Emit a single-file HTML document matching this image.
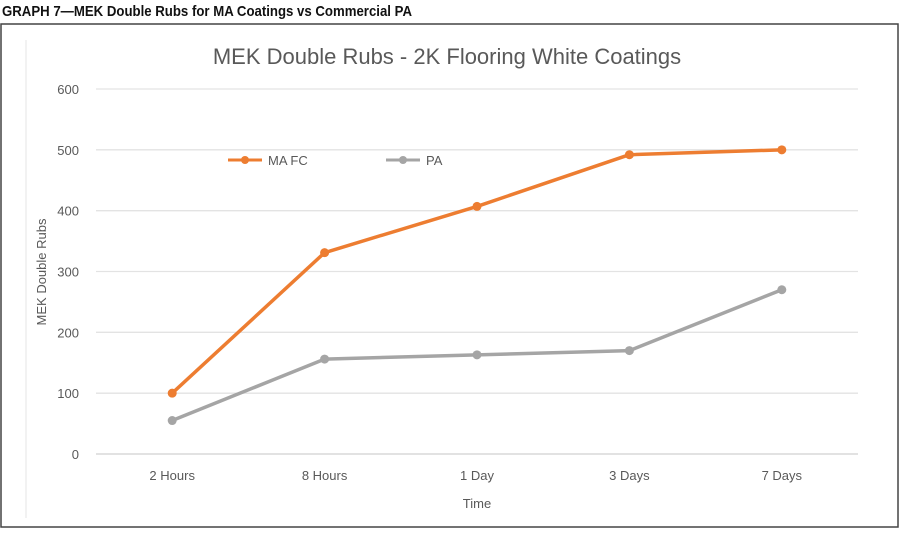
<!DOCTYPE html>
<html><head><meta charset="utf-8"><style>
body{margin:0;background:#fff;width:900px;height:530px;overflow:hidden}
svg text{font-family:"Liberation Sans",sans-serif}
</style></head><body>
<svg width="900" height="530">
<text x="2" y="16" font-size="15" font-weight="bold" fill="#111" textLength="410" lengthAdjust="spacingAndGlyphs">GRAPH 7—MEK Double Rubs for MA Coatings vs Commercial PA</text>
<rect x="1" y="24" width="897" height="503" fill="none" stroke="#444" stroke-width="1.5"/>
<line x1="26" y1="40" x2="26" y2="518" stroke="#e6e6e6"/>
<text x="447" y="64" font-size="22" fill="#595959" text-anchor="middle">MEK Double Rubs - 2K Flooring White Coatings</text>
<g id="grid"></g><g id="ylab"></g><g id="xlab"></g><g id="series"></g>
<text transform="translate(46,272) rotate(-90)" font-size="13" fill="#595959" text-anchor="middle">MEK Double Rubs</text>
<text x="477" y="508" font-size="13" fill="#595959" text-anchor="middle">Time</text>
<g>
<line x1="228" y1="160" x2="262" y2="160" stroke="#ED7D31" stroke-width="3"/><circle cx="245" cy="160" r="4" fill="#ED7D31"/>
<text x="268" y="165" font-size="13" fill="#595959">MA FC</text>
<line x1="386" y1="160" x2="420" y2="160" stroke="#A5A5A5" stroke-width="3"/><circle cx="403" cy="160" r="4" fill="#A5A5A5"/>
<text x="426" y="165" font-size="13" fill="#595959">PA</text>
</g>
</svg>
<script>
const categories=["2 Hours","8 Hours","1 Day","3 Days","7 Days"];
const maFc=[100,331,407,492,500];
const pa=[55,156,163,170,270];
const yTicks=[0,100,200,300,400,500,600];
const NS="http://www.w3.org/2000/svg";
const x0=96,x1=858,yTop=89,yBot=454,yMax=600;
const xs=i=>x0+(i+0.5)*(x1-x0)/categories.length;
const ys=v=>yBot-v/yMax*(yBot-yTop);
function mk(t,a,p){const e=document.createElementNS(NS,t);for(const k in a)e.setAttribute(k,a[k]);p.appendChild(e);return e;}
const g=document.getElementById('grid'),yl=document.getElementById('ylab'),xl=document.getElementById('xlab'),s=document.getElementById('series');
yTicks.forEach(v=>{
 const l=mk('line',{x1:x0,x2:x1,y1:ys(v),y2:ys(v),stroke:v===0?'#d0d0d0':'#e3e3e3','stroke-width':1.3},g);
 
 
 const t=mk('text',{x:79,y:ys(v)+5,'font-size':13,fill:'#595959','text-anchor':'end'},yl);
 t.textContent=v;
 
 
});
categories.forEach((c,i)=>{
 const t=mk('text',{x:xs(i),y:480,'font-size':13,fill:'#595959','text-anchor':'middle'},xl);
 t.textContent=c;
 
 
});
[[pa,'#A5A5A5','pa'],[maFc,'#ED7D31','ma-fc']].forEach(([d,col,n])=>{
 const pl=mk('polyline',{points:d.map((v,i)=>xs(i)+','+ys(v)).join(' '),fill:'none',stroke:col,'stroke-width':3.5,'stroke-linejoin':'round'},s);
 
 
 d.forEach((v,i)=>{
  const c=mk('circle',{cx:xs(i),cy:ys(v),r:4.5,fill:col},s);
  
  
 });
});
</script>
</body></html>
